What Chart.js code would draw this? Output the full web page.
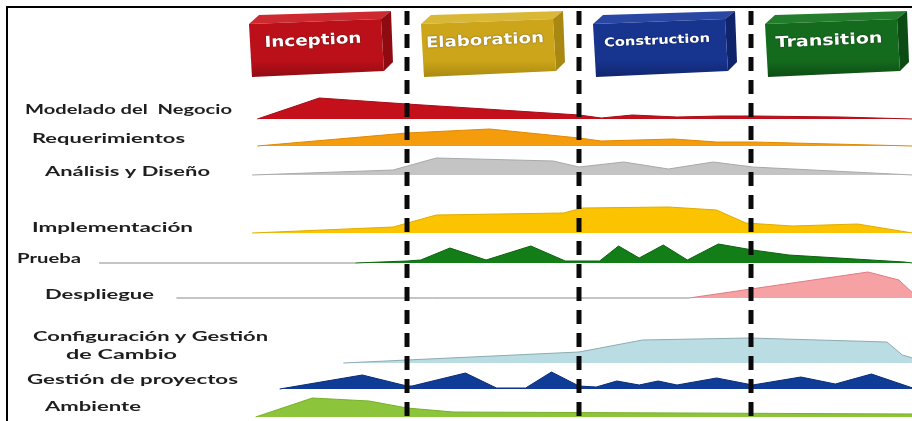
<!DOCTYPE html>
<html><head><meta charset="utf-8">
<script src="https://cdn.jsdelivr.net/npm/chart.js@4"></script>
<style>html,body{margin:0;padding:0;background:#fff}#wrap{width:912px;height:421px}</style>
</head><body><div id="wrap"><canvas id="c" width="912" height="421"></canvas></div>
<script>
// ================= DATA =================
// time axis: 10 units per phase
const phases = ['Inception', 'Elaboration', 'Construction', 'Transition'];
const phaseBounds = [0, 10, 20, 30, 40];
const disciplines = ['Modelado del  Negocio', 'Requerimientos', 'Análisis y Diseño', 'Implementación', 'Prueba',
  'Despliegue', ['Configuración y Gestión', 'de Cambio'], 'Gestión de proyectos', 'Ambiente'];
// effort profiles: [time, effort]
const modelado = [[1.3,0],[4.9,21],[10,15],[20,4],[21.3,1],[23.1,4],[25.7,2],[28.2,3],[30.1,3],[35.2,2],[39.4,0]];
const requerimientos = [[1.3,0],[10,13],[14.8,17],[20,8],[21.3,5],[25.5,7],[28,4],[30.1,4],[39.4,0]];
const analisis = [[1.0,0],[9.2,5],[11.7,17],[18.5,14],[20,8],[22.6,13],[25.2,6],[27.8,13],[30.1,8],[39.4,0]];
const implementacion = [[1.0,0],[9.2,6],[11.7,18],[19.1,20],[20.2,25],[25.2,26],[28,23],[29.7,10],[32.4,7],[36.2,9],[39.4,0]];
const prueba = [[-7.9,0],[7,0],[10,2],[10.8,3],[12.5,15],[14.6,3],[17.2,17],[19.2,2],[21.2,2],[22.3,17],[23.5,5],[24.9,18],[26.3,3],[28.1,19],[30.1,13],[32.2,8],[38.9,1],[39.4,0]];
const despliegue = [[-3.4,0],[26.4,0],[36.8,26],[38.6,18],[39.4,5]];
const configuracion = [[6.3,0],[10,3],[20,11],[23.7,23],[29.9,25],[37.9,21],[38.8,8],[39.4,5]];
const gestion = [[2.6,0],[7.4,14],[10,3],[10.3,3],[13.4,16],[15.2,1],[16.9,1],[18.4,17],[20,3],[21,2],[22.2,8],[23.5,4],[24.6,8],[25.7,4],[28,11],[30.1,4],[32.9,12],[34.9,5],[37,15],[39.4,1]];
const ambiente = [[1.2,0],[4.5,19],[7.8,16],[10,9],[12.7,5],[39.4,3]];
const profiles = [modelado, requerimientos, analisis, implementacion, prueba, despliegue, configuracion, gestion, ambiente];

// ================= LAYOUT / STYLE =================
const rowBaseline = [119, 146, 175, 233, 263, 298, 363, 389, 417];
const fillColors = ['#c4101b','#f59c0c','#c4c4c4','#fcc300','#137d17','#f6a1a4','#b9dde3','#0f3c96','#8cc53c'];
const lineColors = ['#a50d16','#e08a00','#a9a9a9','#e0ad00','#0d6310','#e07d84','#8eabb2','#0a2d78','#78b02a'];
const labelPos = [
  {x:25, y:110, w:207, s:13}, {x:32, y:139, w:153, s:13}, {x:45, y:171, w:165, s:14},
  {x:32, y:228, w:161, s:13}, {x:17, y:259, w:64, s:13}, {x:45, y:295, w:109, s:13},
  {x:33, y:337, w:235, s:13, x2:66, y2:355, w2:111}, {x:27, y:380, w:211, s:13}, {x:45, y:407, w:96, s:13}
];
const boxStyle = [
  {front:'#bb1019', top:'#cc2a30', side:'#8e0b12', tw:97, fs:15},
  {front:'#cda51a', top:'#d9b838', side:'#a88810', tw:118, fs:15},
  {front:'#17348f', top:'#2a47a3', side:'#0f246a', tw:106, fs:12},
  {front:'#146a1d', top:'#247d2c', side:'#0d4b14', tw:107, fs:15}
];

const datasets = profiles.map((p, i) => ({
  label: Array.isArray(disciplines[i]) ? disciplines[i].join(' ') : disciplines[i],
  data: p.map(([t, e]) => ({x: t, y: rowBaseline[i] - e})),
  backgroundColor: fillColors[i],
  borderColor: lineColors[i],
  borderWidth: 1,
  pointRadius: 0,
  tension: 0,
  fill: {value: rowBaseline[i]},
  segment: {
    borderColor: ctx => (ctx.p0.parsed.y === rowBaseline[ctx.datasetIndex] && ctx.p1.parsed.y === rowBaseline[ctx.datasetIndex]) ? '#8a8a8a' : undefined
  }
}));

function drawStretched(ctx, text, x, y, w, font) {
  ctx.save();
  ctx.font = font;
  const m = ctx.measureText(text).width;
  ctx.translate(x, y);
  ctx.scale(w / m, 1);
  ctx.fillText(text, 0, 0);
  ctx.restore();
}

const decor = {
  id: 'decor',
  beforeDraw(chart) {
    const {ctx, width, height} = chart;
    ctx.save();
    ctx.fillStyle = '#fff';
    ctx.fillRect(0, 0, width, height);
    ctx.restore();
  },
  beforeDatasetsDraw(chart) {
    const {ctx} = chart;
    const xs = chart.scales.x;
    // frame
    ctx.save();
    ctx.strokeStyle = '#000';
    ctx.lineWidth = 2;
    ctx.beginPath();
    ctx.moveTo(7, 421); ctx.lineTo(7, 7); ctx.lineTo(912, 7);
    ctx.stroke();
    ctx.restore();
    // phase boxes
    phases.forEach((name, i) => {
      const cx = (xs.getPixelForValue(phaseBounds[i]) + xs.getPixelForValue(phaseBounds[i + 1])) / 2;
      const L = cx - 72, R = cx + 72;
      const st = boxStyle[i];
      const poly = (pts, col) => {
        ctx.beginPath();
        ctx.moveTo(pts[0][0], pts[0][1]);
        pts.slice(1).forEach(p => ctx.lineTo(p[0], p[1]));
        ctx.closePath();
        ctx.fillStyle = col;
        ctx.fill();
      };
      ctx.save();
      poly([[L, 24], [L + 10, 15], [R - 2, 11], [R - 12, 19]], st.top);
      poly([[R - 12, 19], [R - 2, 11], [R, 62], [R - 9, 71]], st.side);
      const g = ctx.createLinearGradient(0, 20, 0, 78);
      g.addColorStop(0, st.front);
      g.addColorStop(0.7, st.front);
      g.addColorStop(1, st.side);
      poly([[L, 24], [R - 12, 19], [R - 9, 71], [L + 3, 77]], g);
      ctx.fillStyle = '#fff';
      ctx.textBaseline = 'middle';
      ctx.textAlign = 'left';
      ctx.shadowColor = 'rgba(0,0,0,0.6)';
      ctx.shadowBlur = 1.5;
      ctx.translate(cx - 8, 41);
      ctx.rotate(-0.045);
      drawStretched(ctx, name, -st.tw / 2, 0, st.tw, 'bold ' + st.fs + 'px "DejaVu Sans"');
      ctx.restore();
    });
    // discipline labels
    ctx.save();
    ctx.fillStyle = '#1e1e1e';
    ctx.textBaseline = 'middle';
    ctx.textAlign = 'left';
    disciplines.forEach((d, i) => {
      const lp = labelPos[i];
      const font = 'bold ' + lp.s + 'px Lato';
      if (Array.isArray(d)) {
        drawStretched(ctx, d[0], lp.x, lp.y, lp.w, font);
        drawStretched(ctx, d[1], lp.x2, lp.y2, lp.w2, font);
      } else {
        drawStretched(ctx, d, lp.x, lp.y, lp.w, font);
      }
    });
    ctx.restore();
  },
  afterDatasetsDraw(chart) {
    const {ctx} = chart;
    const xs = chart.scales.x;
    ctx.save();
    ctx.strokeStyle = '#0a0a0a';
    ctx.lineWidth = 5;
    ctx.setLineDash([14, 9]);
    phaseBounds.slice(1, 4).forEach(b => {
      const x = Math.round(xs.getPixelForValue(b));
      ctx.beginPath();
      ctx.moveTo(x, 11);
      ctx.lineTo(x, 421);
      ctx.stroke();
    });
    ctx.restore();
  }
};

new Chart(document.getElementById('c'), {
  type: 'line',
  data: {datasets},
  options: {
    responsive: false,
    animation: false,
    layout: {padding: 0},
    plugins: {legend: {display: false}, tooltip: {enabled: false}},
    scales: {
      x: {type: 'linear', display: false, min: -13.66, max: 39.36},
      y: {type: 'linear', display: false, reverse: true, min: 0, max: 421}
    }
  },
  plugins: [decor]
});
</script></body></html>
